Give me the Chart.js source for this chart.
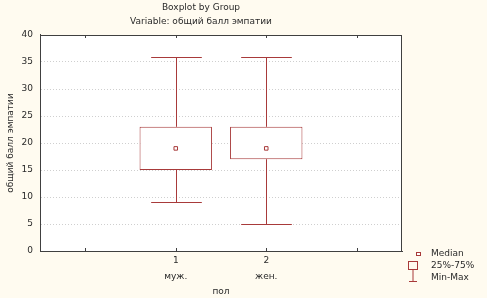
<!DOCTYPE html>
<html>
<head>
<meta charset="utf-8">
<script src="https://cdn.jsdelivr.net/npm/chart.js@4/dist/chart.umd.min.js"></script>
<style>
  html, body { margin: 0; padding: 0; background: #fffbf0; }
  #c { display: block; }
</style>
</head>
<body>
<canvas id="c" width="487" height="298"></canvas>
<script>
// groups on the x axis (outer slots are empty padding slots)
var groupCodes = ["", "1", "2", ""];
var groupNames = ["", "муж.", "жен.", ""];

// box statistics per slot (null = no box)
var minVals    = [null, 9, 5, null];
var q1Vals     = [null, 15, 17, null];
var medianVals = [null, 19, 19, null];
var q3Vals     = [null, 23, 23, null];
var maxVals    = [null, 36, 36, null];

var yTicks = [0, 5, 10, 15, 20, 25, 30, 35, 40];

var RED = "#a83a3a";
var FONT = "'DejaVu Sans', sans-serif";

var labels = groupCodes.map(function(c, i) {
  return c ? [c, groupNames[i]] : "";
});
var boxData = q1Vals.map(function(q, i) {
  return q === null ? null : [q, q3Vals[i]];
});

// white plot area + frame + small inner ticks
var frame = {
  id: "frame",
  beforeDraw: function(chart) {
    var a = chart.chartArea, ctx = chart.ctx;
    ctx.save();
    ctx.fillStyle = "#ffffff";
    ctx.fillRect(a.left, a.top, a.right - a.left, a.bottom - a.top);
    ctx.restore();
  },
  afterDraw: function(chart) {
    var a = chart.chartArea, ctx = chart.ctx, x = chart.scales.x;
    ctx.save();
    ctx.strokeStyle = "#404040";
    ctx.lineWidth = 1;
    ctx.strokeRect(Math.round(a.left) + 0.5, Math.round(a.top) + 0.5,
      Math.round(a.right - a.left) - 1, Math.round(a.bottom - a.top));
    ctx.beginPath();
    for (var i = 0; i < groupCodes.length; i++) {
      var px = Math.round(x.getPixelForValue(i)) + 0.5;
      ctx.moveTo(px, a.top); ctx.lineTo(px, a.top + 3);
      ctx.moveTo(px, a.bottom); ctx.lineTo(px, a.bottom - 3);
    }
    ctx.stroke();
    ctx.restore();
  }
};

// whiskers: min..Q1 and Q3..max with caps
var whiskers = {
  id: "whiskers",
  beforeDatasetsDraw: function(chart) {
    var x = chart.scales.x, y = chart.scales.y, ctx = chart.ctx;
    var slot = x.getPixelForValue(1) - x.getPixelForValue(0);
    var half = slot * 0.28;
    ctx.save();
    ctx.strokeStyle = RED;
    ctx.lineWidth = 1;
    ctx.beginPath();
    for (var i = 0; i < minVals.length; i++) {
      if (minVals[i] === null) continue;
      var cx = Math.round(x.getPixelForValue(i)) + 0.5;
      var yMin = Math.round(y.getPixelForValue(minVals[i])) + 0.5;
      var yMax = Math.round(y.getPixelForValue(maxVals[i])) + 0.5;
      ctx.moveTo(cx, yMin); ctx.lineTo(cx, y.getPixelForValue(q1Vals[i]));
      ctx.moveTo(cx, yMax); ctx.lineTo(cx, y.getPixelForValue(q3Vals[i]));
      ctx.moveTo(cx - half, yMin); ctx.lineTo(cx + half, yMin);
      ctx.moveTo(cx - half, yMax); ctx.lineTo(cx + half, yMax);
    }
    ctx.stroke();
    ctx.restore();
  }
};

// legend at the bottom right
var legendBox = {
  id: "legendBox",
  afterDraw: function(chart) {
    var ctx = chart.ctx;
    ctx.save();
    ctx.strokeStyle = RED;
    ctx.lineWidth = 1;
    ctx.fillStyle = "#ffffff";
    ctx.fillRect(416.5, 252.5, 4, 3);
    ctx.strokeRect(416.5, 252.5, 4, 3);
    ctx.strokeRect(408.5, 261.5, 9, 8);
    ctx.beginPath();
    ctx.moveTo(413, 269.5); ctx.lineTo(413, 281.5);
    ctx.moveTo(409, 281.5); ctx.lineTo(417, 281.5);
    ctx.stroke();
    ctx.fillStyle = "#2a2a2a";
    ctx.font = "9px " + FONT;
    ctx.textBaseline = "middle";
    ctx.fillText("Median", 431, 254);
    ctx.fillText("25%-75%", 431, 266);
    ctx.fillText("Min-Max", 431, 278);
    ctx.restore();
  }
};

new Chart(document.getElementById("c"), {
  type: "bar",
  data: {
    labels: labels,
    datasets: [
      {
        label: "25%-75%",
        data: boxData,
        order: 2,
        backgroundColor: "#ffffff",
        borderColor: RED,
        borderWidth: 1,
        borderSkipped: false,
        barPercentage: 0.8,
        categoryPercentage: 1
      },
      {
        type: "line",
        label: "Median",
        data: medianVals,
        order: 1,
        showLine: false,
        pointStyle: "rect",
        pointRadius: 2.5,
        pointBorderWidth: 1,
        pointBackgroundColor: "#ffffff",
        pointBorderColor: RED
      }
    ]
  },
  options: {
    responsive: false,
    animation: false,
    layout: { padding: { left: 0, right: 85, top: 0, bottom: 0 } },
    plugins: {
      legend: { display: false },
      tooltip: { enabled: false },
      title: {
        display: true,
        text: "Boxplot by Group",
        color: "#2a2a2a",
        font: { family: FONT, size: 9, weight: "normal", lineHeight: 1.2 },
        padding: { top: 2, bottom: 0 }
      },
      subtitle: {
        display: true,
        text: "Variable: общий балл эмпатии",
        color: "#2a2a2a",
        font: { family: FONT, size: 9, lineHeight: 1.2 },
        padding: { top: 3.8, bottom: 7.6 }
      }
    },
    scales: {
      x: {
        offset: true,
        grid: { display: true, drawOnChartArea: false, drawTicks: false },
        border: { display: true, color: "#404040" },
        ticks: {
          autoSkip: false,
          maxRotation: 0,
          padding: 2,
          color: "#2a2a2a",
          font: { family: FONT, size: 9, lineHeight: "15.5px" }
        },
        title: {
          display: true,
          text: "пол",
          color: "#2a2a2a",
          font: { family: FONT, size: 9, lineHeight: 1.2 },
          padding: { top: 0, bottom: 1 }
        },
        afterFit: function(s) { s.height = 47; }
      },
      y: {
        min: 0,
        max: 40,
        afterBuildTicks: function(s) {
          s.ticks = yTicks.map(function(v) { return { value: v }; });
        },
        grid: {
          drawTicks: false,
          color: function(c) {
            var v = c.tick ? c.tick.value : 0;
            return (v === 0 || v === 40) ? "rgba(0,0,0,0)" : "#cfcfcf";
          },
          lineWidth: 1
        },
        border: { display: true, color: "#404040", dash: [1, 2] },
        ticks: {
          padding: 7,
          color: "#2a2a2a",
          font: { family: FONT, size: 9 }
        },
        title: {
          display: true,
          text: "общий балл эмпатии",
          color: "#2a2a2a",
          font: { family: FONT, size: 9, lineHeight: 1.2 },
          padding: { top: 5, bottom: 0 }
        },
        afterFit: function(s) { s.width = 40; }
      }
    }
  },
  plugins: [frame, whiskers, legendBox]
});
</script>
</body>
</html>
